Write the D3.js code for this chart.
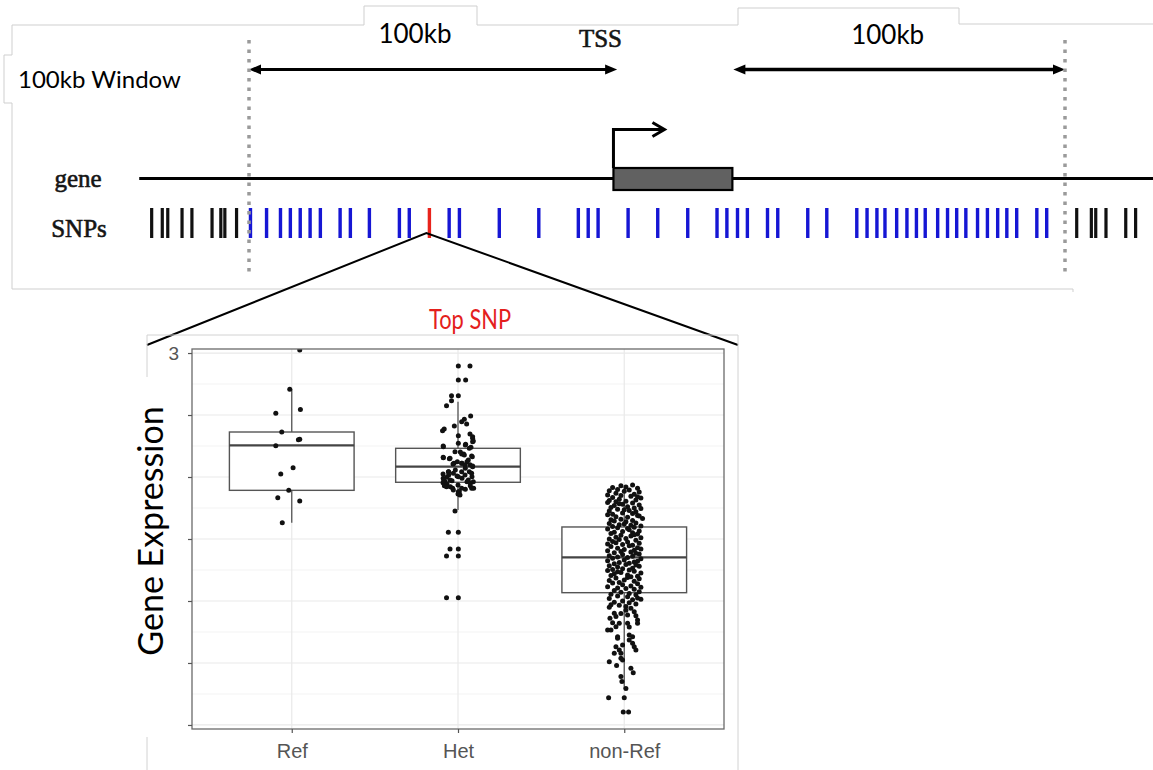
<!DOCTYPE html>
<html>
<head>
<meta charset="utf-8">
<script src="https://cdn.jsdelivr.net/npm/d3@7"></script>
<style>
  body { margin: 0; background: #fff; }
  svg { display: block; }
</style>
</head>
<body>
<div class="chart"></div>
<script>
// ---- genome track data (positions in kb, TSS = 0) ----
var windowKb = [-100, 123];
var trackKb = [-130, 148];
var geneKb = [-0.4, 32.1];
var topSnpKb = -50.7;
var outsideSnpKb = [-126.6, -123.7, -122.2, -118.3, -115.6, -110.1, -107.7, -106.6, -103.4,
  126.2, 130.2, 131.4, 134.2, 139.6, 142.3];
var windowSnpKb = [-99.6, -95.2, -91.4, -88.7, -86.0, -83.3, -80.5, -75.1, -72.3, -67.1, -58.9, -56.2,
  -45.3, -42.5, -31.6, -20.8, -10.0, -7.3, -4.6, 3.6, 11.7, 19.9, 27.9, 30.6, 33.5, 36.2, 41.7, 44.5,
  52.7, 57.9, 66.1, 68.9, 71.6, 73.8, 77.0, 79.8, 82.4, 84.8, 88.2, 90.9, 93.4, 95.9, 99.1, 101.8,
  104.6, 107.1, 109.8, 115.3, 118.0];

// ---- boxplot data ----
var genotypes = ["Ref", "Het", "non-Ref"];
var yTicks = [-3, -2, -1, 0, 1, 2, 3];
var yTickLabels = ["", "", "", "", "", "", "3"];
var whiskerLow = [0.263, 0.468, -2.42];
var boxQ1 = [0.785, 0.915, -0.866];
var boxMedian = [1.511, 1.166, -0.298];
var boxQ3 = [1.726, 1.463, 0.194];
var whiskerHigh = [2.415, 2.215, 0.84];

// points: [jitter (fraction of category step), expression]
var refPoints = [[0.048, 3.05], [-0.012, 2.415], [-0.096, 2.03], [0.052, 2.09], [-0.06, 1.726], [0.04, 1.60],
  [0.048, 1.61], [-0.096, 1.505], [0.008, 1.15], [-0.066, 1.05], [-0.018, 0.785], [-0.084, 0.666],
  [0.048, 0.613], [-0.057, 0.263]];

var hetPoints = [[0.002, 2.79], [0.072, 2.79], [0.002, 2.565], [0.046, 2.565], [-0.039, 2.312], [0.002, 2.312],
  [-0.039, 2.23], [-0.069, 2.15], [0.076, 1.984], [0.038, 1.93], [0.022, 1.892], [0.052, 1.855],
  [-0.022, 1.823], [-0.083, 1.774], [-0.093, 1.747], [0.072, 1.694], [0.002, 1.666], [0.088, 1.65],
  [0.088, 1.624], [0.092, 1.58], [0.088, 1.57], [0.002, 1.543], [0.046, 1.527], [0.044, 1.516],
  [-0.089, 1.5], [-0.088, 1.489], [0.078, 1.479], [0.068, 1.462], [-0.018, 1.408], [0.014, 1.403],
  [0.022, 1.371], [0.034, 1.371], [0.038, 1.355], [0.082, 1.339], [0.086, 1.328], [-0.089, 1.318],
  [-0.088, 1.312], [-0.048, 1.301], [-0.052, 1.296], [0.062, 1.274], [-0.004, 1.247], [0.054, 1.247],
  [-0.024, 1.221], [0.022, 1.221], [0.024, 1.221], [-0.03, 1.21], [0.072, 1.199], [0.042, 1.194],
  [0.088, 1.177], [0.088, 1.166], [0.044, 1.14], [-0.016, 1.113], [-0.058, 1.086], [0.022, 1.086],
  [-0.056, 1.086], [0.068, 1.086], [-0.028, 1.06], [0.082, 1.06], [-0.09, 1.048], [-0.056, 1.032],
  [0.042, 1.032], [-0.006, 1.016], [0.002, 1.005], [0.084, 1.005], [-0.068, 0.995], [-0.089, 0.979],
  [0.024, 0.979], [-0.048, 0.952], [0.062, 0.952], [-0.086, 0.952], [-0.036, 0.941], [-0.078, 0.925],
  [0.054, 0.925], [0.092, 0.925], [-0.09, 0.908], [0.074, 0.898], [-0.066, 0.887], [0, 0.871],
  [0.074, 0.86], [-0.082, 0.86], [-0.069, 0.844], [-0.046, 0.844], [0.022, 0.817], [0.082, 0.817],
  [-0.032, 0.817], [0.094, 0.817], [0.044, 0.801], [-0.028, 0.79], [0.002, 0.763], [0.008, 0.763],
  [0, 0.726], [0.012, 0.71], [-0.018, 0.452], [-0.058, 0.108], [0.002, 0.108], [-0.048, -0.161],
  [0.002, -0.161], [-0.069, -0.274], [0.002, -0.274], [-0.069, -0.947], [0.002, -0.947]];

var nonRefPoints = [[-0.02, 0.86], [0.05, 0.87], [-0.07, 0.83], [0.01, 0.84], [0.08, 0.82], [-0.04, 0.80],
  [-0.09, 0.78], [0.03, 0.79], [0.09, 0.76], [-0.05, 0.74], [0.00, 0.77], [0.06, 0.72], [-0.10, 0.71], [-0.02, 0.70],
  [0.04, 0.69], [-0.07, 0.67], [0.10, 0.66], [-0.03, 0.64], [0.07, 0.63], [-0.09, 0.62], [0.01, 0.61], [-0.05, 0.60], [0.08, 0.68],
  [-0.10, 0.59], [0.05, 0.58], [-0.01, 0.56], [0.09, 0.55], [-0.06, 0.54], [0.02, 0.52], [-0.08, 0.51], [0.06, 0.50], [-0.03, 0.57],
  [0.10, 0.49], [-0.04, 0.48], [0.03, 0.46], [-0.09, 0.45], [0.07, 0.44], [-0.01, 0.42], [0.05, 0.41], [-0.07, 0.40], [0.00, 0.47],
  [-0.10, 0.39], [0.08, 0.38], [-0.05, 0.36], [0.02, 0.35], [0.11, 0.33], [-0.02, 0.32], [-0.08, 0.31], [0.05, 0.30], [0.09, 0.37],
  [-0.06, 0.29], [0.01, 0.28], [0.07, 0.26], [-0.09, 0.25], [-0.03, 0.23], [0.04, 0.22], [0.10, 0.21], [-0.07, 0.20], [0.00, 0.24],
  [0.06, 0.19], [-0.04, 0.18], [-0.10, 0.16], [0.03, 0.15], [0.09, 0.13], [-0.01, 0.12], [-0.06, 0.11], [0.05, 0.10], [0.02, 0.17],
  [-0.08, 0.09], [0.08, 0.08], [-0.02, 0.06], [0.04, 0.05], [-0.05, 0.03], [0.10, 0.02], [0.01, 0.01], [-0.09, 0.00], [0.06, 0.07],
  [-0.03, -0.01], [0.07, -0.02], [-0.07, -0.04], [0.02, -0.05], [0.09, -0.07], [-0.10, -0.08], [-0.01, -0.09], [0.05, -0.10], [-0.05, -0.06],
  [0.03, -0.11], [-0.08, -0.12], [0.08, -0.14], [-0.04, -0.15], [0.00, -0.17], [0.06, -0.18], [-0.10, -0.19], [-0.02, -0.20], [0.10, -0.16],
  [0.04, -0.21], [-0.06, -0.22], [0.09, -0.24], [-0.01, -0.25], [-0.09, -0.27], [0.05, -0.28], [-0.04, -0.29], [0.02, -0.30], [0.07, -0.23],
  [-0.07, -0.31], [0.10, -0.32], [0.00, -0.34], [-0.10, -0.35], [0.06, -0.37], [-0.03, -0.38], [0.03, -0.39], [-0.06, -0.40], [0.08, -0.36],
  [0.01, -0.41], [-0.09, -0.43], [0.09, -0.44], [-0.04, -0.45], [0.05, -0.47], [-0.01, -0.48], [-0.07, -0.49], [0.03, -0.50], [0.07, -0.42],
  [-0.10, -0.51], [0.06, -0.52], [-0.02, -0.54], [0.10, -0.55], [-0.06, -0.56], [0.02, -0.58], [-0.08, -0.59], [0.08, -0.60], [-0.04, -0.53],
  [0.04, -0.61], [-0.05, -0.63], [0.09, -0.64], [0.00, -0.66], [-0.09, -0.67], [0.06, -0.68], [-0.03, -0.70], [0.02, -0.62],
  [-0.07, -0.71], [0.08, -0.72], [-0.01, -0.74], [0.04, -0.76], [-0.10, -0.77], [0.10, -0.78], [-0.04, -0.79], [0.01, -0.80],
  [0.06, -0.81], [-0.06, -0.83], [0.09, -0.85], [-0.02, -0.86], [0.03, -0.88], [-0.08, -0.89], [0.07, -0.90],
  [-0.04, -0.92], [0.02, -0.93], [0.08, -0.95], [-0.09, -0.96], [0.05, -0.98], [-0.01, -1.00], [0.10, -0.97],
  [-0.06, -1.02], [0.03, -1.03], [0.07, -1.05], [-0.03, -1.07], [0.01, -1.09], [-0.08, -1.06],
  [-0.09, -1.102], [0.04, -1.118], [0.01, -1.15], [0.06, -1.172], [-0.06, -1.198], [-0.02, -1.20], [0.02, -1.226],
  [0.07, -1.24], [-0.05, -1.25], [-0.086, -1.279], [0.08, -1.306], [-0.07, -1.35], [0.08, -1.36], [-0.03, -1.36],
  [0.02, -1.36], [-0.05, -1.414], [0.03, -1.42], [-0.08, -1.468], [-0.10, -1.468], [0.03, -1.548], [0.05, -1.575],
  [-0.04, -1.575], [-0.04, -1.602], [0.03, -1.629], [0.05, -1.68], [-0.01, -1.71], [-0.05, -1.737], [0.06, -1.737],
  [0.07, -1.79], [-0.03, -1.79], [-0.06, -1.843], [-0.02, -1.844], [-0.02, -1.924], [-0.01, -1.952],
  [-0.09, -1.979], [-0.046, -2.04], [0.04, -2.085], [0.054, -2.156], [-0.02, -2.22], [-0.014, -2.3],
  [0.01, -2.41], [-0.094, -2.56], [0, -2.56], [-0.006, -2.79], [0.026, -2.79]];

var pointSets = [refPoints, hetPoints, nonRefPoints];

var svgWidth = 1153;
var svgHeight = 770;

var svg = d3.select(".chart")
  .append("svg")
  .attr("width", svgWidth)
  .attr("height", svgHeight);

svg.append("rect").attr("width", svgWidth).attr("height", svgHeight).attr("fill", "#fff");

// faint text-box outlines around the top track
svg.append("path")
  .attr("d", "M364,6 L364,25 L12,25 L12,55 L4,55 L4,103 L12,103 L12,289 L1073,289 L1073,292" +
    " M364,6 L477,6 L477,25 L738,25 L738,8 L959,8 L959,24 L1153,24")
  .attr("fill", "none")
  .attr("stroke", "#cfcfcf")
  .attr("stroke-width", 1);

// ======================= genome track =======================
var kb = d3.scaleLinear().domain(windowKb).range([249, 1065]);

var arrowY = 69.5, geneY = 178.5, snpTop = 208, snpBottom = 238;
var serif = "'Liberation Serif', 'DejaVu Serif', serif";
var sans = "Lato, 'Open Sans', sans-serif";

// double-headed 100kb arrows
function arrow(x1, x2, w) {
  svg.append("line")
    .attr("x1", x1 + 9).attr("x2", x2 - 9)
    .attr("y1", arrowY).attr("y2", arrowY)
    .attr("stroke", "#000").attr("stroke-width", w);
  svg.append("path").attr("d", `M${x1},${arrowY} L${x1 + 12},${arrowY - 5} L${x1 + 12},${arrowY + 5} Z`);
  svg.append("path").attr("d", `M${x2},${arrowY} L${x2 - 12},${arrowY - 5} L${x2 - 12},${arrowY + 5} Z`);
}
arrow(kb(windowKb[0]), kb(0.6), 3);
arrow(kb(geneKb[1]) + 1, kb(windowKb[1]), 3.5);

svg.append("text")
  .attr("x", (kb(windowKb[0]) + kb(0)) / 2 - 17).attr("y", 43)
  .attr("text-anchor", "middle")
  .style("font-family", sans).style("font-size", "26px")
  .text("100kb");
svg.append("text")
  .attr("x", (kb(geneKb[1]) + kb(windowKb[1])) / 2 - 11).attr("y", 44)
  .attr("text-anchor", "middle")
  .style("font-family", sans).style("font-size", "26px")
  .text("100kb");
svg.append("text")
  .attr("x", 18).attr("y", 88)
  .style("font-family", sans).style("font-size", "24px")
  .text("100kb Window");

// serif labels (the source is a blurry bitmap, so give them a little extra weight)
function serifLabel(x, yPos, txt) {
  svg.append("text")
    .attr("x", x).attr("y", yPos)
    .attr("text-anchor", "middle")
    .attr("fill", "#151515")
    .attr("stroke", "#151515").attr("stroke-width", 0.6)
    .style("font-family", serif).style("font-size", "25px")
    .text(txt);
}
serifLabel(kb(geneKb[0]) - 13, 47, "TSS");
serifLabel(78, 187, "gene");
serifLabel(79, 237, "SNPs");

// gene line + exon box + TSS arrow
svg.append("line")
  .attr("x1", kb(trackKb[0])).attr("x2", kb(trackKb[1]))
  .attr("y1", geneY).attr("y2", geneY)
  .attr("stroke", "#000").attr("stroke-width", 3);

svg.append("rect")
  .attr("x", kb(geneKb[0])).attr("y", 168)
  .attr("width", kb(geneKb[1]) - kb(geneKb[0])).attr("height", 22)
  .attr("fill", "#616161").attr("stroke", "#000").attr("stroke-width", 2.2);

var tssX = kb(geneKb[0]);
svg.append("path")
  .attr("d", `M${tssX},168 V129.5 H${tssX + 51}`)
  .attr("fill", "none").attr("stroke", "#000").attr("stroke-width", 3);
svg.append("path")
  .attr("d", `M${tssX + 39},122.5 L${tssX + 51},129.5 L${tssX + 39},136.5`)
  .attr("fill", "none").attr("stroke", "#000").attr("stroke-width", 3);

// SNP ticks
svg.selectAll(".snp-out")
  .data(outsideSnpKb)
  .enter()
  .append("rect")
  .attr("x", d => kb(d) - 1.6)
  .attr("y", snpTop)
  .attr("width", 3.2)
  .attr("height", snpBottom - snpTop)
  .attr("fill", "#111");

svg.selectAll(".snp-in")
  .data(windowSnpKb)
  .enter()
  .append("rect")
  .attr("x", d => kb(d) - 1.7)
  .attr("y", snpTop)
  .attr("width", 3.4)
  .attr("height", snpBottom - snpTop)
  .attr("fill", "#1616d4");

svg.append("rect")
  .attr("x", kb(topSnpKb) - 1.7)
  .attr("y", snpTop)
  .attr("width", 3.4)
  .attr("height", snpBottom - snpTop)
  .attr("fill", "#e8231c");

// dotted window borders
svg.selectAll(".window-edge")
  .data(windowKb)
  .enter()
  .append("line")
  .attr("x1", d => kb(d)).attr("x2", d => kb(d))
  .attr("y1", 40).attr("y2", 276)
  .attr("stroke", "#9a9a9a")
  .attr("stroke-width", 3.5)
  .attr("stroke-dasharray", "3.5 6");

// zoom-out lines from the top SNP to the inset
var apex = [kb(topSnpKb) - 3, 233];
svg.append("path")
  .attr("d", `M147,345 L${apex[0]},${apex[1]} L738,345`)
  .attr("fill", "none").attr("stroke", "#000").attr("stroke-width", 2);

// inset frame
svg.append("path")
  .attr("d", "M147,377 V335 H738 V770 M147,737 V770")
  .attr("fill", "none").attr("stroke", "#d2d2d2").attr("stroke-width", 1);

// ======================= boxplot =======================
var panel = { left: 192, right: 724, top: 349, bottom: 729 };

var x = d3.scalePoint()
  .domain(genotypes)
  .range([panel.left, panel.right])
  .padding(0.6);
var step = x.step();

var y = d3.scaleLinear()
  .domain([-3.065, 3.065])
  .range([panel.bottom, panel.top]);

var plot = svg.append("g");

// gridlines
var minorTicks = d3.pairs(yTicks).map(p => (p[0] + p[1]) / 2);
plot.selectAll(".minor")
  .data(minorTicks)
  .enter()
  .append("line")
  .attr("x1", panel.left).attr("x2", panel.right)
  .attr("y1", d => y(d)).attr("y2", d => y(d))
  .attr("stroke", "#f3f3f3").attr("stroke-width", 1);

plot.selectAll(".major")
  .data(yTicks)
  .enter()
  .append("line")
  .attr("x1", panel.left).attr("x2", panel.right)
  .attr("y1", d => y(d)).attr("y2", d => y(d))
  .attr("stroke", "#e9e9e9").attr("stroke-width", 1.2);

plot.selectAll(".vgrid")
  .data(genotypes)
  .enter()
  .append("line")
  .attr("x1", d => x(d)).attr("x2", d => x(d))
  .attr("y1", panel.top).attr("y2", panel.bottom)
  .attr("stroke", "#e9e9e9").attr("stroke-width", 1.2);

// boxes
var boxes = genotypes.map(function (g, i) {
  return { g: g, lo: whiskerLow[i], q1: boxQ1[i], med: boxMedian[i], q3: boxQ3[i], hi: whiskerHigh[i] };
});
var boxW = step * 0.75;

var boxG = plot.selectAll(".box")
  .data(boxes)
  .enter()
  .append("g");

boxG.append("line")
  .attr("x1", d => x(d.g)).attr("x2", d => x(d.g))
  .attr("y1", d => y(d.hi)).attr("y2", d => y(d.lo))
  .attr("stroke", "#555").attr("stroke-width", 1.3);

boxG.append("rect")
  .attr("x", d => x(d.g) - boxW / 2)
  .attr("y", d => y(d.q3))
  .attr("width", boxW)
  .attr("height", d => y(d.q1) - y(d.q3))
  .attr("fill", "#fff")
  .attr("stroke", "#555").attr("stroke-width", 1.4);

boxG.append("line")
  .attr("x1", d => x(d.g) - boxW / 2).attr("x2", d => x(d.g) + boxW / 2)
  .attr("y1", d => y(d.med)).attr("y2", d => y(d.med))
  .attr("stroke", "#444").attr("stroke-width", 2.3);

// jittered points
svg.append("clipPath").attr("id", "panel-clip")
  .append("rect")
  .attr("x", panel.left).attr("y", panel.top)
  .attr("width", panel.right - panel.left).attr("height", panel.bottom - panel.top);

var pts = [];
pointSets.forEach(function (set, i) {
  set.forEach(function (p) { pts.push({ g: genotypes[i], j: p[0], v: p[1] }); });
});

plot.append("g")
  .attr("clip-path", "url(#panel-clip)")
  .selectAll("circle")
  .data(pts)
  .enter()
  .append("circle")
  .attr("cx", d => x(d.g) + d.j * step)
  .attr("cy", d => y(d.v))
  .attr("r", 2.5)
  .attr("fill", "#111");

// panel border
plot.append("rect")
  .attr("x", panel.left).attr("y", panel.top)
  .attr("width", panel.right - panel.left).attr("height", panel.bottom - panel.top)
  .attr("fill", "none").attr("stroke", "#6a6a6a").attr("stroke-width", 1.3);

// axes
var leftAxis = d3.axisLeft(y)
  .tickValues(yTicks)
  .tickFormat((d, i) => yTickLabels[i])
  .tickSize(4)
  .tickPadding(9);
var bottomAxis = d3.axisBottom(x)
  .tickSize(4)
  .tickPadding(11);

var gy = plot.append("g")
  .attr("transform", `translate(${panel.left},0)`)
  .call(leftAxis);
var gx = plot.append("g")
  .attr("transform", `translate(0,${panel.bottom})`)
  .call(bottomAxis);

[gx, gy].forEach(function (g) {
  g.select(".domain").remove();
  g.selectAll("line").attr("stroke", "#555").attr("stroke-width", 1.2);
  g.selectAll("text")
    .attr("fill", "#555")
    .style("font-family", "'Liberation Sans', Arial, sans-serif")
    .style("font-size", "20px");
});
gy.selectAll("text").style("font-size", "19px");

// axis title + inset title
svg.append("text")
  .attr("transform", "translate(163,531) rotate(-90)")
  .attr("text-anchor", "middle")
  .style("font-family", sans).style("font-size", "34px")
  .text("Gene Expression");

svg.append("text")
  .attr("x", 470).attr("y", 329)
  .attr("text-anchor", "middle")
  .attr("fill", "#e4201c")
  .attr("textLength", 82)
  .attr("lengthAdjust", "spacingAndGlyphs")
  .style("font-family", sans).style("font-size", "26px")
  .text("Top SNP");
</script>
</body>
</html>
